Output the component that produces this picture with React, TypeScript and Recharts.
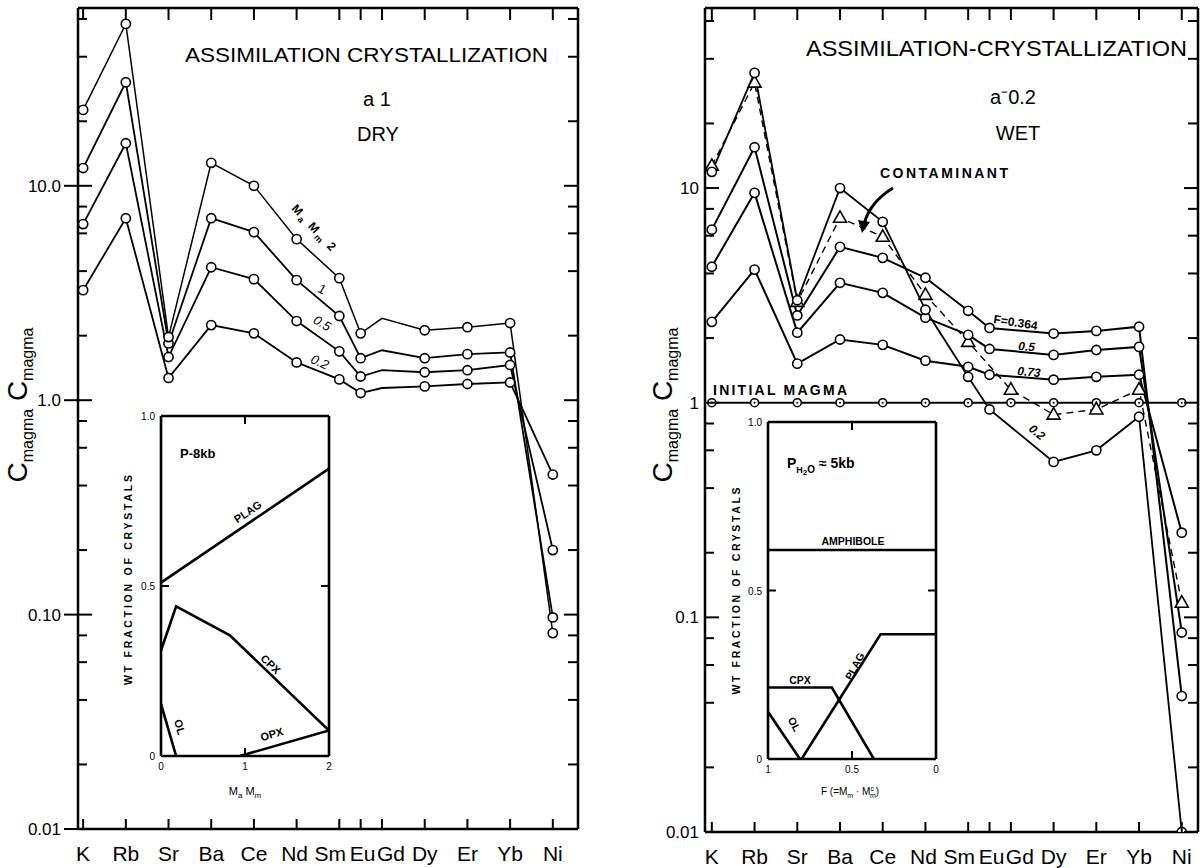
import React from 'react'
import { LineChart, Line, XAxis, YAxis } from 'recharts'

// element axis (positions follow atomic-number spacing of the REE)
const elements = ['K', 'Rb', 'Sr', 'Ba', 'Ce', 'Nd', 'Sm', 'Eu', 'Gd', 'Dy', 'Er', 'Yb', 'Ni']
const elementPos = [0, 1, 2, 3, 4, 5, 6, 6.5, 7, 8, 9, 10, 11]

// left panel: a = 1, dry (Ma/Mm = 2, 1, 0.5, 0.2)
const dryElements = ['K', 'Rb', 'Sr', 'Ba', 'Ce', 'Nd', 'Sm', 'Eu', 'Gd', 'Dy', 'Er', 'Yb', 'Ni']
const dryUnmarked = ['Gd']
const dryMaMm2 = [22.6, 56.9, 1.97, 12.8, 10.0, 5.64, 3.71, 2.05, 2.41, 2.12, 2.19, 2.29, 0.082]
const dryMaMm1 = [12.1, 30.4, 1.84, 7.06, 6.08, 3.63, 2.47, 1.57, 1.71, 1.57, 1.64, 1.67, 0.097]
const dryMaMm05 = [6.63, 15.8, 1.59, 4.17, 3.67, 2.34, 1.69, 1.29, 1.38, 1.35, 1.38, 1.46, 0.2]
const dryMaMm02 = [3.26, 7.06, 1.27, 2.24, 2.05, 1.5, 1.25, 1.08, 1.14, 1.16, 1.19, 1.21, 0.45]

// right panel: a = 0.2, wet (F = 0.364, 0.5, 0.73, 0.2)
const wetFElements = ['K', 'Rb', 'Sr', 'Ba', 'Ce', 'Nd', 'Sm', 'Eu', 'Dy', 'Er', 'Yb', 'Ni']
const wetF0364 = [6.4, 15.5, 2.55, 5.32, 4.73, 3.82, 2.68, 2.23, 2.1, 2.16, 2.26, 0.043]
const wetF05 = [4.3, 9.5, 2.12, 3.62, 3.25, 2.49, 2.07, 1.78, 1.67, 1.76, 1.82, 0.085]
const wetF073 = [2.38, 4.17, 1.52, 1.97, 1.86, 1.57, 1.47, 1.35, 1.28, 1.32, 1.35, 0.248]
const wetF02 = [11.9, 34.4, 3.0, 10.0, 6.96, 2.71, 1.32, 0.93, 0.53, 0.6, 0.86, 0.01]
const wetMagmaElements = ['K', 'Rb', 'Sr', 'Ba', 'Ce', 'Nd', 'Sm', 'Gd', 'Dy', 'Er', 'Yb', 'Ni']
const initialMagma = [1, 1, 1, 1, 1, 1, 1, 1, 1, 1, 1, 1]
const contaminant = [12.7, 31, 2.95, 7.27, 5.93, 3.18, 1.92, 1.15, 0.88, 0.93, 1.15, 0.117]

const yTicks = [0.01, 0.02, 0.04, 0.06, 0.08, 0.1, 0.2, 0.4, 0.6, 0.8, 1, 2, 4, 6, 8, 10, 20, 40, 60]
const yMajor = [0.01, 0.1, 1, 10]
const dryYLabels = ['0.01', '0.10', '1.0', '10.0']
const wetYLabels = ['0.01', '0.1', '1', '10']

// inset, left: mineral proportions vs Ma/Mm
const dryPlagX = [0, 2]
const dryPlagY = [0.51, 0.845]
const dryCpxX = [0, 0.18, 0.82, 2]
const dryCpxY = [0.31, 0.44, 0.355, 0.075]
const dryOlX = [0, 0.18]
const dryOlY = [0.153, 0]
const dryOpxX = [0.94, 2]
const dryOpxY = [0, 0.075]

// inset, right: mineral proportions vs F
const wetAmphX = [1, 0]
const wetAmphY = [0.62, 0.62]
const wetPlagX = [0.8, 0.33, 0]
const wetPlagY = [0, 0.37, 0.37]
const wetCpxX = [1, 0.62, 0.37]
const wetCpxY = [0.212, 0.212, 0]
const wetOlX = [1, 0.81]
const wetOlY = [0.14, 0]

const FONT = 'Liberation Sans, Arial, sans-serif'
const labelShift: Record<string, number> = { Nd: -2, Sm: -9, Eu: 2, Gd: 9 }

const toPoints = (names: string[], values: number[], unmarked: string[] = []) =>
  names.map((n, i) => ({ x: elementPos[elements.indexOf(n)], y: values[i], mark: !unmarked.includes(n) }))
const toXY = (xs: number[], ys: number[]) => xs.map((x, i) => ({ x, y: ys[i] }))

const circleDot = (r: number) => (p: any) => {
  if (!p.payload.mark) return <g key={`d${p.index}`} />
  return <circle key={`d${p.index}`} cx={p.cx} cy={p.cy} r={r} fill="#fff" stroke="#000" strokeWidth={1.6} />
}
const magmaDot = (p: any) => (
  <g key={`m${p.index}`}>
    <circle cx={p.cx} cy={p.cy} r={4} fill="#fff" stroke="#000" strokeWidth={1.6} />
    <circle cx={p.cx} cy={p.cy} r={1} fill="#000" />
  </g>
)
const triDot = (p: any) => (
  <path key={`t${p.index}`} d={`M${p.cx},${p.cy - 7}L${p.cx + 6.5},${p.cy + 4.5}L${p.cx - 6.5},${p.cy + 4.5}Z`}
    fill="#fff" stroke="#000" strokeWidth={1.6} />
)

const bottomTick = (p: any) => {
  const name = elements[elementPos.indexOf(p.payload.value)]
  return (
    <g>
      <line x1={p.x} x2={p.x} y1={p.y} y2={p.y - 10} stroke="#000" strokeWidth={2} />
      <text x={p.x + (labelShift[name] ?? 0)} y={p.y + 32} textAnchor="middle" fontSize={21} fontFamily={FONT}>{name}</text>
    </g>
  )
}
const topTick = (p: any) => <line x1={p.x} x2={p.x} y1={p.y} y2={p.y + 12} stroke="#000" strokeWidth={2} />

const leftTick = (labels: string[], outward: number, gap: number) => (p: any) => {
  const i = yMajor.indexOf(p.payload.value)
  const major = i >= 0
  return (
    <g>
      <line x1={p.x - (major ? outward : 0)} x2={p.x + (major ? 14 : 9)} y1={p.y} y2={p.y} stroke="#000" strokeWidth={2} />
      {major && (
        <text x={p.x - gap} y={p.y + 6} textAnchor="end" fontSize={17} fontFamily={FONT}>{labels[i]}</text>
      )}
    </g>
  )
}
const rightTick = (p: any) => {
  const major = yMajor.includes(p.payload.value)
  return <line x1={p.x} x2={p.x - (major ? 14 : 10)} y1={p.y} y2={p.y} stroke="#000" strokeWidth={2} />
}

const axisStroke = { stroke: '#000', strokeWidth: 2.5 }

function Panel(props: {
  left: number; width: number; margin: any; yWidth: number; bottomHeight: number
  xDomain: number[]; yDomain: number[]; labels: string[]; outward: number; gap: number
  children: React.ReactNode
}) {
  return (
    <div style={{ position: 'absolute', left: props.left, top: 0 }}>
      <LineChart width={props.width} height={868} margin={props.margin}>
        <XAxis type="number" dataKey="x" domain={props.xDomain} ticks={elementPos} interval={0} allowDataOverflow
          height={props.bottomHeight} tickSize={0} tickMargin={0} tickLine={false} axisLine={axisStroke} tick={bottomTick} />
        <XAxis xAxisId="top" orientation="top" type="number" dataKey="x" domain={props.xDomain} ticks={elementPos}
          interval={0} allowDataOverflow height={8} tickSize={0} tickMargin={0} tickLine={false} axisLine={axisStroke} tick={topTick} />
        <YAxis type="number" scale="log" domain={props.yDomain} ticks={yTicks} interval={0} allowDataOverflow
          width={props.yWidth} tickSize={0} tickMargin={0} tickLine={false} axisLine={axisStroke}
          tick={leftTick(props.labels, props.outward, props.gap)} />
        <YAxis yAxisId="right" orientation="right" type="number" scale="log" domain={props.yDomain} ticks={yTicks}
          interval={0} allowDataOverflow width={4} tickSize={0} tickMargin={0} tickLine={false} axisLine={axisStroke} tick={rightTick} />
        {props.children}
      </LineChart>
    </div>
  )
}

// boxTop / boxBottom: page y of the inset frame
function Inset(props: {
  left: number; boxTop: number; boxBottom: number; xDomain: number[]; reversed?: boolean; xTicks: number[]; xMark: number
  xLabels: string[]; lines: { x: number }[][]
}) {
  const yLabels = ['0', '0.5', '1.0']
  const xb = (p: any) => {
    const v = p.payload.value
    return (
      <g>
        {v === props.xMark && <line x1={p.x} x2={p.x} y1={p.y} y2={p.y - 8} stroke="#000" strokeWidth={2} />}
        <text x={p.x} y={p.y + 14} textAnchor="middle" fontSize={10} fontFamily={FONT}>{props.xLabels[props.xTicks.indexOf(v)]}</text>
      </g>
    )
  }
  const xt = (p: any) => (p.payload.value === props.xMark
    ? <line x1={p.x} x2={p.x} y1={p.y} y2={p.y + 8} stroke="#000" strokeWidth={2} /> : <g />)
  const yl = (p: any) => {
    const v = p.payload.value
    return (
      <g>
        {v === 0.5 && <line x1={p.x} x2={p.x + 8} y1={p.y} y2={p.y} stroke="#000" strokeWidth={2} />}
        <text x={p.x - 6} y={p.y + 4} textAnchor="end" fontSize={10} fontFamily={FONT}>{yLabels[[0, 0.5, 1].indexOf(v)]}</text>
      </g>
    )
  }
  const yr = (p: any) => (p.payload.value === 0.5
    ? <line x1={p.x} x2={p.x - 8} y1={p.y} y2={p.y} stroke="#000" strokeWidth={2} /> : <g />)
  const ax = { stroke: '#000', strokeWidth: 2.6 }
  const h = props.boxBottom - props.boxTop + 50
  return (
    <div style={{ position: 'absolute', left: props.left, top: props.boxTop - 10 }}>
      <LineChart width={250} height={h} margin={{ top: 9, right: 20, bottom: 10, left: 31 }}>
        <XAxis type="number" dataKey="x" domain={props.xDomain} reversed={props.reversed} ticks={props.xTicks} interval={0}
          allowDataOverflow height={30} tickSize={0} tickMargin={0} tickLine={false} axisLine={ax} tick={xb} />
        <XAxis xAxisId="top" orientation="top" type="number" dataKey="x" domain={props.xDomain} reversed={props.reversed}
          ticks={props.xTicks} interval={0} allowDataOverflow height={1} tickSize={0} tickMargin={0} tickLine={false} axisLine={ax} tick={xt} />
        <YAxis type="number" domain={[0, 1]} ticks={[0, 0.5, 1]} interval={0} allowDataOverflow width={30}
          tickSize={0} tickMargin={0} tickLine={false} axisLine={ax} tick={yl} />
        <YAxis yAxisId="right" orientation="right" type="number" domain={[0, 1]} ticks={[0, 0.5, 1]} interval={0}
          allowDataOverflow width={1} tickSize={0} tickMargin={0} tickLine={false} axisLine={ax} tick={yr} />
        {props.lines.map((d, i) => (
          <Line key={i} data={d} dataKey="y" type="linear" stroke="#000" strokeWidth={2.6} dot={false}
            activeDot={false} isAnimationActive={false} />
        ))}
      </LineChart>
    </div>
  )
}

export default function App() {
  const dryXDomain = [-0.12, 11.59]
  const wetXDomain = [-0.16, 11.38]
  const lineProps = { type: 'linear' as const, dataKey: 'y', stroke: '#000', activeDot: false as const, isAnimationActive: false }
  return (
    <div style={{ position: 'absolute', left: 0, top: 0, width: 1204, height: 868, background: '#fff', fontFamily: FONT }}>
      <Panel left={0} width={600} margin={{ top: 0, right: 18, bottom: 0, left: 8 }} yWidth={70} bottomHeight={39}
        xDomain={dryXDomain} yDomain={[0.01, 67.5]} labels={dryYLabels} outward={14} gap={17}>
        <Line {...lineProps} data={toPoints(dryElements, dryMaMm02, dryUnmarked)} strokeWidth={1.8} dot={circleDot(4.6)} />
        <Line {...lineProps} data={toPoints(dryElements, dryMaMm05, dryUnmarked)} strokeWidth={1.8} dot={circleDot(4.6)} />
        <Line {...lineProps} data={toPoints(dryElements, dryMaMm1, dryUnmarked)} strokeWidth={1.8} dot={circleDot(4.6)} />
        <Line {...lineProps} data={toPoints(dryElements, dryMaMm2, dryUnmarked)} strokeWidth={1.5} dot={circleDot(4.6)} />
      </Panel>

      <Panel left={620} width={584} margin={{ top: 0, right: 2, bottom: 0, left: 15 }} yWidth={70} bottomHeight={36}
        xDomain={wetXDomain} yDomain={[0.01, 69]} labels={wetYLabels} outward={0} gap={6}>
        <Line {...lineProps} data={toPoints(wetMagmaElements, initialMagma)} strokeWidth={2} dot={magmaDot} />
        <Line {...lineProps} data={toPoints(wetMagmaElements, contaminant)} strokeWidth={1.4} strokeDasharray="7 5" dot={triDot} />
        <Line {...lineProps} data={toPoints(wetFElements, wetF073)} strokeWidth={2} dot={circleDot(4.6)} />
        <Line {...lineProps} data={toPoints(wetFElements, wetF05)} strokeWidth={2} dot={circleDot(4.6)} />
        <Line {...lineProps} data={toPoints(wetFElements, wetF0364)} strokeWidth={2} dot={circleDot(4.6)} />
        <Line {...lineProps} data={toPoints(wetFElements, wetF02)} strokeWidth={1.8} dot={circleDot(4.6)} />
      </Panel>

      <Inset left={100} boxTop={416} boxBottom={756} xDomain={[0, 2]} xTicks={[0, 1, 2]} xMark={1} xLabels={['0', '1', '2']}
        lines={[toXY(dryPlagX, dryPlagY), toXY(dryCpxX, dryCpxY), toXY(dryOlX, dryOlY), toXY(dryOpxX, dryOpxY)]} />
      <Inset left={707} boxTop={422} boxBottom={759} xDomain={[0, 1]} reversed xTicks={[1, 0.5, 0]} xMark={0.5} xLabels={['1', '0.5', '0']}
        lines={[toXY(wetAmphX, wetAmphY), toXY(wetPlagX, wetPlagY), toXY(wetCpxX, wetCpxY), toXY(wetOlX, wetOlY)]} />

      <svg width={1204} height={868} style={{ position: 'absolute', left: 0, top: 0, pointerEvents: 'none' }} fontFamily={FONT}>
        {/* left panel */}
        <text transform="translate(27,405) rotate(-90)" textAnchor="middle" fontSize={28}>
          C<tspan fontSize={16} dy={6}>magma</tspan><tspan fontSize={28} dy={-6}> C</tspan><tspan fontSize={16} dy={6}>magma</tspan>
        </text>
        <text x={185} y={62} fontSize={21} textLength={363} lengthAdjust="spacingAndGlyphs">ASSIMILATION CRYSTALLIZATION</text>
        <text x={377} y={106} fontSize={20} textAnchor="middle">a 1</text>
        <text x={378} y={141} fontSize={20} textAnchor="middle">DRY</text>
        <text transform="translate(291,209) rotate(47)" fontSize={12} fontWeight="bold" letterSpacing={2}>
          M<tspan fontSize={9} dy={3}>a</tspan><tspan fontSize={12} dy={-3}> M</tspan><tspan fontSize={9} dy={3}>m</tspan><tspan fontSize={12} dy={-3}> 2</tspan>
        </text>
        <text transform="translate(320,293) rotate(30)" fontSize={13} textAnchor="middle">1</text>
        <text transform="translate(320,327) rotate(30)" fontSize={13} textAnchor="middle" fontStyle="italic">0.5</text>
        <text transform="translate(318,366) rotate(25)" fontSize={13} textAnchor="middle" fontStyle="italic">0.2</text>

        {/* left inset */}
        <text x={180} y={458} fontSize={13} fontWeight="bold">P-8kb</text>
        <text transform="translate(250,515) rotate(-34)" fontSize={11} fontWeight="bold" textAnchor="middle">PLAG</text>
        <text transform="translate(268,667) rotate(44)" fontSize={11} fontWeight="bold" textAnchor="middle">CPX</text>
        <text transform="translate(176,728) rotate(75)" fontSize={11} fontWeight="bold" textAnchor="middle">OL</text>
        <text transform="translate(273,738) rotate(-16)" fontSize={11} fontWeight="bold" textAnchor="middle">OPX</text>
        <text transform="translate(132,580) rotate(-90)" fontSize={10.5} fontWeight="bold" textAnchor="middle" textLength={210}>WT FRACTION OF CRYSTALS</text>
        <text x={245} y={795} fontSize={11} textAnchor="middle">
          M<tspan fontSize={8} dy={3}>a</tspan><tspan fontSize={11} dy={-3}>  M</tspan><tspan fontSize={8} dy={3}>m</tspan>
        </text>

        {/* right panel */}
        <text transform="translate(672,405) rotate(-90)" textAnchor="middle" fontSize={28}>
          C<tspan fontSize={16} dy={6}>magma</tspan><tspan fontSize={28} dy={-6}> C</tspan><tspan fontSize={16} dy={6}>magma</tspan>
        </text>
        <text x={806} y={56} fontSize={22} textLength={381} lengthAdjust="spacingAndGlyphs">ASSIMILATION-CRYSTALLIZATION</text>
        <text x={1013} y={104} fontSize={20} textAnchor="middle">a⁻0.2</text>
        <text x={1018} y={140} fontSize={20} textAnchor="middle">WET</text>
        <text x={880} y={178} fontSize={14} fontWeight="bold" textLength={128}>CONTAMINANT</text>
        <path d="M893,188 Q870,202 864,224" fill="none" stroke="#000" strokeWidth={3} />
        <path d="M858,220 L862,233 L870,222 Z" fill="#000" />
        <text x={713} y={395} fontSize={14} fontWeight="bold" textLength={134}>INITIAL MAGMA</text>
        <text transform="translate(993,323) rotate(9)" fontSize={12} fontWeight="bold">F=0.364</text>
        <text transform="translate(1018,350) rotate(4)" fontSize={12} fontWeight="bold" fontStyle="italic">0.5</text>
        <text transform="translate(1017,375) rotate(5)" fontSize={12} fontWeight="bold" fontStyle="italic">0.73</text>
        <text transform="translate(1028,430) rotate(40)" fontSize={12} fontWeight="bold" fontStyle="italic">0.2</text>

        {/* right inset */}
        <text x={787} y={468} fontSize={14} fontWeight="bold">
          P<tspan fontSize={9} dy={5}>H</tspan><tspan fontSize={8} dy={2}>2</tspan><tspan fontSize={10} dy={-2}>O</tspan><tspan fontSize={14} dy={-5}> ≈ 5kb</tspan>
        </text>
        <text x={853} y={545} fontSize={10.5} fontWeight="bold" textAnchor="middle">AMPHIBOLE</text>
        <text x={800} y={684} fontSize={10.5} fontWeight="bold" textAnchor="middle">CPX</text>
        <text transform="translate(858,668) rotate(-62)" fontSize={10.5} fontWeight="bold" textAnchor="middle">PLAG</text>
        <text transform="translate(791,726) rotate(62)" fontSize={10.5} fontWeight="bold" textAnchor="middle">OL</text>
        <text transform="translate(740,591) rotate(-90)" fontSize={10.5} fontWeight="bold" textAnchor="middle" textLength={207}>WT FRACTION OF CRYSTALS</text>
        <text x={850} y={795} fontSize={10} textAnchor="middle">
          F (=M<tspan fontSize={7} dy={3}>m</tspan><tspan fontSize={10} dy={-3}> · M</tspan><tspan fontSize={7} dy={-4}>c</tspan><tspan fontSize={7} dx={-4} dy={7}>m</tspan><tspan fontSize={10} dy={-3}>)</tspan>
        </text>
      </svg>
    </div>
  )
}
